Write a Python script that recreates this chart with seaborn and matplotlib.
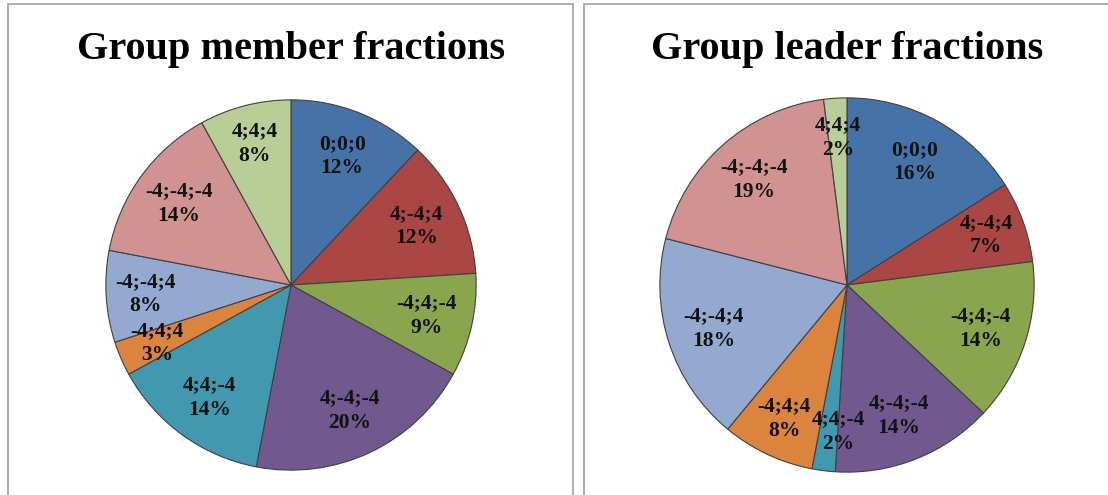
import numpy as np
import matplotlib
matplotlib.use("Agg")
import matplotlib.pyplot as plt
import seaborn as sns
from matplotlib.patches import Rectangle

# ---- data ----
categories = ["0;0;0", "4;-4;4", "-4;4;-4", "4;-4;-4", "4;4;-4",
              "-4;4;4", "-4;-4;4", "-4;-4;-4", "4;4;4"]
member_pct = [12, 12, 9, 20, 14, 3, 8, 14, 8]
leader_pct = [16, 7, 14, 14, 2, 8, 18, 19, 2]
titles = ["Group member fractions", "Group leader fractions"]
colors_hex = ["#4572A7", "#AA4643", "#89A54E", "#71588F", "#4198AF",
              "#DB843D", "#93A9CF", "#D19392", "#B9CD96"]

sns.set_theme(style="white")
plt.rcParams['font.family'] = ['Liberation Serif', 'DejaVu Serif']
palette = sns.color_palette(colors_hex)

W, H = 1108, 495
fig = plt.figure(figsize=(W / 100, H / 100), dpi=100)

# panel borders (pixel geometry -> figure fraction)
def frac_rect(x0, y0, x1, y1):
    return (x0 / W, 1 - y1 / H, (x1 - x0) / W, (y1 - y0) / H)

for (x0, y0, x1, y1) in [(8, 4, 573, 520), (584, 4, 1130, 520)]:
    l, b, w, h = frac_rect(x0, y0, x1, y1)
    fig.patches.append(Rectangle((l, b), w, h, transform=fig.transFigure,
                                 fill=False, edgecolor="#A8A8A8", linewidth=1.3,
                                 clip_on=False))

panels = [
    (member_pct, (104, 98, 478, 472), 291),
    (leader_pct, (658, 96, 1036, 474), 847),
]

renderer = fig.canvas.get_renderer()

for (vals, box, cx), title in zip(panels, titles):
    l, b, w, h = frac_rect(*box)
    ax = fig.add_axes([l, b, w, h])
    wedges, _ = ax.pie(vals, colors=palette, startangle=90, counterclock=False,
                       radius=1.0,
                       wedgeprops=dict(edgecolor="#404040", linewidth=0.8))
    ax.set_xlim(-1.01, 1.01)
    ax.set_ylim(-1.01, 1.01)
    ax.set_aspect("equal")
    ax.axis("off")
    texts = []
    for wedge, cat, v in zip(wedges, categories, vals):
        ang = np.deg2rad((wedge.theta1 + wedge.theta2) / 2)
        r = 0.79 if v <= 8 else 0.75
        t = ax.text(r * np.cos(ang), r * np.sin(ang), f"{cat}\n{v}%",
                    ha="center", va="center", fontsize=15.5, fontweight="bold",
                    color="#111111", linespacing=1.3)
        texts.append((t, v))
    # simple overlap avoidance: nudge the smaller slice's label sideways
    fig.canvas.draw()
    for i in range(len(texts)):
        for j in range(i + 1, len(texts)):
            ti, vi = texts[i]
            tj, vj = texts[j]
            bi = ti.get_window_extent(renderer)
            bj = tj.get_window_extent(renderer)
            if bi.overlaps(bj):
                small, big = (ti, tj) if vi < vj else (tj, ti)
                bs = small.get_window_extent(renderer)
                bb = big.get_window_extent(renderer)
                if bs.x0 + bs.width / 2 >= bb.x0 + bb.width / 2:
                    shift = bb.x1 - bs.x0 + 1
                else:
                    shift = -(bs.x1 - bb.x0 + 1)
                x, y = small.get_position()
                disp = ax.transData.transform((x, y))
                newx, newy = ax.transData.inverted().transform((disp[0] + shift, disp[1]))
                small.set_position((newx, newy))
    fig.text(cx / W, 1 - 49 / H, title, ha="center", va="center",
             fontsize=29, fontweight="bold", color="black")

fig.savefig("out.png", dpi=100)
